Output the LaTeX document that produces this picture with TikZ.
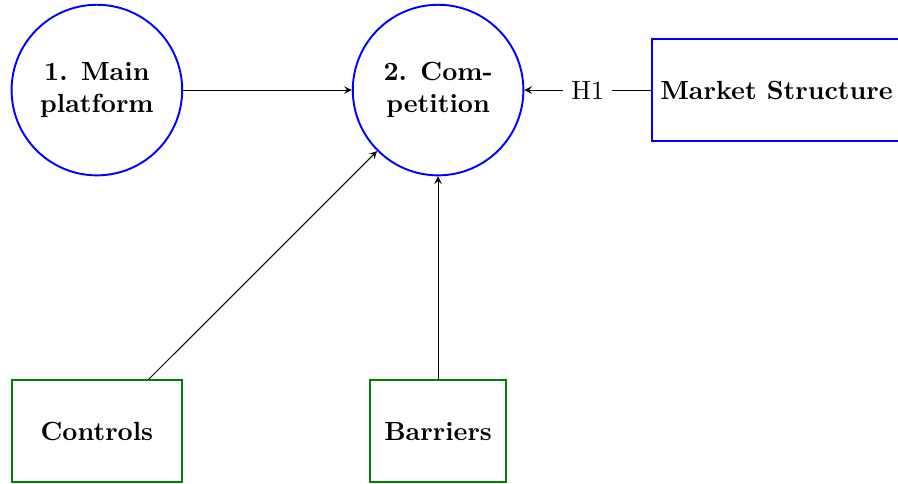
\documentclass[tikz,border=0pt]{standalone}
\usetikzlibrary{arrows}
\newcommand{\elevenpt}{\fontsize{10.95}{13.6}\selectfont}
\begin{document}
\begin{tikzpicture}[
  >=stealth,
  every node/.style={font=\elevenpt},
  topic/.style={circle, draw=blue, thick, minimum size=2.5cm, align=center, font=\elevenpt\bfseries},
  factor/.style={rectangle, draw=green!50!black, thick, minimum height=1.5cm, font=\elevenpt\bfseries},
  driver/.style={rectangle, draw=blue, thick, minimum height=1.5cm, font=\elevenpt\bfseries},
  link/.style={->, thin}
]
\useasboundingbox (-1.42,1.32) rectangle (11.74,-5.76);

\node[topic] (main) at (0,0) {1. Main\\platform};
\node[topic] (comp) at (5,0) {2. Com-\\petition};
\node[driver] (market) at (9.96,0) {Market Structure};
\node[factor, minimum width=2.5cm] (controls) at (0,-5) {Controls};
\node[factor, minimum width=2cm] (barriers) at (5,-5) {Barriers};

\draw[link] (main) -- (comp);
\draw[link] (market) -- node[fill=white] {H1} (comp);
\draw[link] (controls) -- (comp);
\draw[link] (barriers) -- (comp);
\end{tikzpicture}
\end{document}
